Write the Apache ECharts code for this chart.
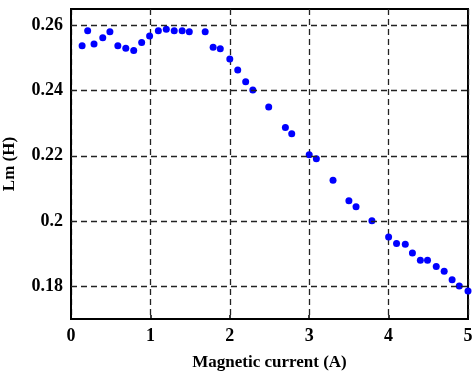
<!DOCTYPE html>
<html>
<head>
<meta charset="utf-8">
<script src="https://cdn.jsdelivr.net/npm/echarts@6/dist/echarts.min.js"></script>
<style>
  html, body { margin: 0; padding: 0; background: #fff; }
  #main { width: 473px; height: 374px; }
</style>
</head>
<body>
<div id="main"></div>
<script>
// magnetic current (A)
const current = [0.14, 0.21, 0.29, 0.40, 0.49, 0.59, 0.69, 0.79, 0.89, 0.99,
  1.10, 1.20, 1.30, 1.40, 1.49, 1.69, 1.79, 1.88, 2.00, 2.10, 2.20, 2.29,
  2.49, 2.70, 2.78, 3.00, 3.09, 3.30, 3.50, 3.59, 3.79, 4.00, 4.10, 4.21,
  4.30, 4.40, 4.49, 4.60, 4.70, 4.80, 4.89, 5.00];
// Lm (H)
const lm = [0.2537, 0.2583, 0.2543, 0.2562, 0.2580, 0.2537, 0.2530, 0.2523, 0.2547, 0.2567,
  0.2583, 0.2588, 0.2583, 0.2583, 0.2580, 0.2580, 0.2533, 0.2528, 0.2497, 0.2463, 0.2427, 0.2402,
  0.2350, 0.2287, 0.2268, 0.2203, 0.2191, 0.2125, 0.2062, 0.2044, 0.2001, 0.1951, 0.1931, 0.1929,
  0.1902, 0.1880, 0.1880, 0.1861, 0.1846, 0.1820, 0.1801, 0.1786];
const yTicks = [0.18, 0.2, 0.22, 0.24, 0.26];

const points = current.map((x, i) => [x, lm[i]]);
const font = 'Liberation Serif';

let chart = echarts.init(document.getElementById('main'));
chart.setOption({
  animation: false,
  grid: {
    left: 71, right: 5, top: 9, bottom: 55,
    outerBoundsMode: 'none',
    show: true, borderColor: '#000', borderWidth: 2
  },
  xAxis: {
    type: 'value', min: 0, max: 5, interval: 1,
    name: 'Magnetic current (A)', nameLocation: 'middle', nameGap: 35,
    nameTextStyle: { fontFamily: font, fontWeight: 'bold', fontSize: 17, color: '#000' },
    axisLine: { lineStyle: { color: '#000', width: 2 } },
    axisTick: { inside: true, length: 4, lineStyle: { color: '#000', width: 1.5 } },
    axisLabel: { margin: 8, fontFamily: font, fontWeight: 'bold', fontSize: 18, color: '#000' },
    splitLine: { show: true, lineStyle: { color: '#222', type: [6, 4], width: 1.3 } }
  },
  yAxis: {
    type: 'value', min: 0.17, max: 0.265, interval: 0.01,
    name: 'Lm (H)', nameLocation: 'middle', nameGap: 53,
    nameTextStyle: { fontFamily: font, fontWeight: 'bold', fontSize: 17, color: '#000' },
    axisLine: { show: true, lineStyle: { color: '#000', width: 2 } },
    axisTick: { show: false },
    axisLabel: {
      margin: 8, fontFamily: font, fontWeight: 'bold', fontSize: 18, color: '#000',
      formatter: function (v) {
        const t = yTicks.find(y => Math.abs(y - v) < 1e-6);
        return t === undefined ? '' : String(t);
      }
    },
    splitLine: { show: false }
  },
  series: [{
    type: 'scatter',
    data: points,
    symbol: 'circle',
    symbolSize: 7,
    itemStyle: { color: '#0000ff', opacity: 1 },
    markLine: {
      silent: true,
      symbol: 'none',
      label: { show: false },
      lineStyle: { color: '#222', type: [6, 4], width: 1.3 },
      data: yTicks.map(v => ({ yAxis: v }))
    }
  }]
});
</script>
</body>
</html>
